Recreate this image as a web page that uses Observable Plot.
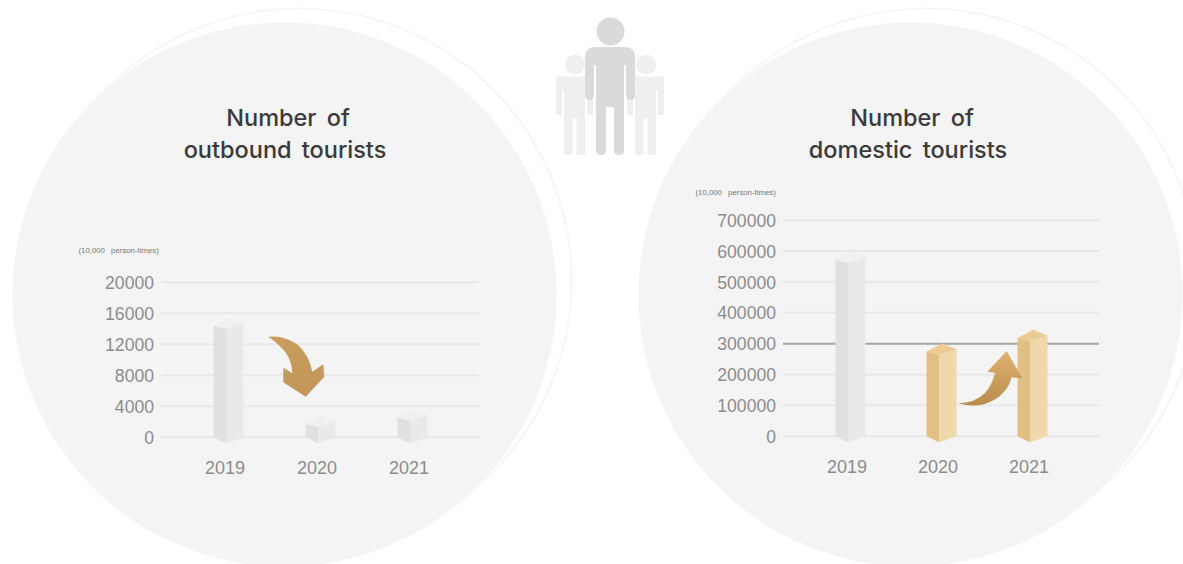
<!DOCTYPE html>
<html>
<head>
<meta charset="utf-8">
<title>Number of outbound and domestic tourists</title>
<script src="https://cdn.jsdelivr.net/npm/d3@7"></script>
<script src="https://cdn.jsdelivr.net/npm/@observablehq/plot@0.6"></script>
<style>
  html, body { margin: 0; background: #fff; overflow: hidden; }
  #stage { position: relative; width: 1183px; height: 564px; }
  #stage svg { position: absolute; left: 0; top: 0; }
</style>
</head>
<body>
<div id="stage"></div>
<script>
// Chart values, in units of 10,000 person-times
const years = ["2019", "2020", "2021"];
const outboundValues = [14660, 2000, 2800];
const domesticValues = [579000, 281000, 325000];
const outboundTicks = [0, 4000, 8000, 12000, 16000, 20000];
const domesticTicks = [0, 100000, 200000, 300000, 400000, 500000, 600000, 700000];
const unitLabel = "(10,000 person-times)";

// Palette for the prism faces: [left, right, top]
const greyFaces = ["#dfe1e0", "#e8e9e9", "#eff0f0"];
const goldFaces = ["#e1bf85", "#efd8ab", "#eccb94"];
const gridColor = "#e8e8e8";
const tickColor = "#8c8c8c";
const fontFamily = "'Liberation Sans', Arial, sans-serif";

const W = 1183, H = 564;
const stage = document.getElementById("stage");

// Hexagonal prism drawn from the scaled x and y of each value
function prisms(facesFor) {
  return (index, scales, channels) => {
    const g = d3.create("svg:g");
    const y0 = scales.y(0);
    for (const i of index) {
      const x = channels.x[i], y = channels.y[i];
      const [left, right, top] = facesFor(i);
      const l = x - 12.5, r = x + 17.5;
      const pts = (p) => p.map((q) => q.join(",")).join(" ");
      g.append("polygon").attr("fill", left)
        .attr("points", pts([[l, y + 2.5], [x, y + 5.7], [x, y0 + 6.6], [l, y0 + 0.6]]));
      g.append("polygon").attr("fill", right)
        .attr("points", pts([[x, y + 5.7], [r, y], [r, y0 + 0.6], [x, y0 + 6.6]]));
      g.append("polygon").attr("fill", top)
        .attr("points", pts([[l, y + 2.5], [x + 3, y - 5.6], [r, y], [x, y + 5.7]]));
    }
    return g.node();
  };
}

// Curved trend arrow with a vertical gold gradient
function trendArrow(id, d, from, to) {
  return () => {
    const g = d3.create("svg:g");
    const grad = g.append("defs").append("linearGradient")
      .attr("id", id).attr("x1", 0).attr("y1", 0).attr("x2", 0).attr("y2", 1);
    grad.append("stop").attr("offset", 0).attr("stop-color", from);
    grad.append("stop").attr("offset", 1).attr("stop-color", to);
    g.append("path").attr("d", d).attr("fill", `url(#${id})`);
    return g.node();
  };
}

function chart({values, ticks, left, right, top, bottom, xRange, facesFor, emphasis, arrow}) {
  const data = years.map((year, i) => ({year, value: values[i]}));
  return Plot.plot({
    width: W, height: H,
    marginLeft: left, marginRight: W - right, marginTop: top, marginBottom: H - bottom,
    style: {background: "transparent", fontFamily},
    x: {type: "point", domain: years, range: xRange, padding: 0, axis: null},
    y: {domain: [0, ticks[ticks.length - 1]], axis: null},
    marks: [
      Plot.ruleY(ticks, {stroke: gridColor, strokeWidth: 2}),
      emphasis != null ? Plot.ruleY([emphasis], {stroke: "#a6a6a6", strokeWidth: 2}) : null,
      Plot.axisY(ticks, {
        anchor: "left", tickSize: 0, tickPadding: 7.5, dy: 1, label: null,
        tickFormat: (d) => String(d), fontSize: 17.6, fill: tickColor, stroke: null
      }),
      Plot.axisX(years, {
        anchor: "bottom", tickSize: 0, tickPadding: 24, dx: -1.5, label: null,
        fontSize: 18, fill: tickColor, stroke: null
      }),
      Plot.dot(data, {x: "year", y: "value", render: prisms(facesFor)}),
      arrow
    ]
  });
}

// Backdrop: discs, thin offset rings, figure group and headings
const pagePoint = {type: "identity"};
const discs = [{x: 284, y: 294}, {x: 910, y: 294}];
const rings = [{x: 299, y: 280}, {x: 925, y: 280}];
const backHeads = [{x: 574.5, y: 64}, {x: 645.5, y: 64}];
const frontHead = [{x: 610, y: 31}];
const headings = [
  {x: 287.5, y: 117.5, text: "Number of"},
  {x: 284.5, y: 149.5, text: "outbound tourists"},
  {x: 911.5, y: 117.5, text: "Number of"},
  {x: 907.5, y: 149.5, text: "domestic tourists"}
];
const unitNotes = [
  {x: 78, y: 250, text: unitLabel},
  {x: 695, y: 192, text: unitLabel}
];

const frontBody = "M595,47H625Q635,47 635,57V95Q635,100 630.5,100Q626,100 626,95V65H624V150Q624,155 619,155Q614,155 614,150V107H606V150Q606,155 601,155Q596,155 596,150V65H594V95Q594,100 589.5,100Q585,100 585,95V57Q585,47 595,47Z";
const backBody = (c) => `M${c - 18.5},78Q${c - 18.5},76.5 ${c - 17},76.5H${c + 17}Q${c + 18.5},76.5 ${c + 18.5},78V115H${c + 12.5}V90H${c + 10.5}V155H${c + 2}V118H${c - 2}V155H${c - 10.5}V90H${c - 12.5}V115H${c - 18.5}Z`;

const figures = () => {
  const g = d3.create("svg:g");
  g.append("path").attr("d", backBody(574.5)).attr("fill", "#eeefef");
  g.append("path").attr("d", backBody(645.5)).attr("fill", "#eeefef");
  return g.node();
};
const frontFigure = () => {
  const g = d3.create("svg:g");
  g.append("path").attr("d", frontBody).attr("fill", "#d9dbda");
  return g.node();
};

stage.append(Plot.plot({
  width: W, height: H, margin: 0,
  style: {background: "transparent", fontFamily: "Inter, 'Noto Sans', sans-serif", wordSpacing: "4px"},
  x: {...pagePoint, axis: null}, y: {...pagePoint, axis: null}, r: {type: "identity"},
  marks: [
    Plot.dot(rings, {x: "x", y: "y", r: 272, stroke: "#f6f6f6", strokeWidth: 2, fill: "none"}),
    Plot.dot(discs, {x: "x", y: "y", r: 272, fill: "#f4f4f4"}),
    figures,
    Plot.dot(backHeads, {x: "x", y: "y", r: 10, fill: "#eeefef"}),
    frontFigure,
    Plot.dot(frontHead, {x: "x", y: "y", r: 14, fill: "#d9dbda"}),
    Plot.text(headings, {x: "x", y: "y", text: "text", fontSize: 23.5, fontWeight: 500, fill: "#3a3a3a"}),
    Plot.text(unitNotes, {x: "x", y: "y", text: "text", textAnchor: "start", fontSize: 7.8, fill: "#777", fontFamily})
  ]
}));

stage.append(chart({
  values: outboundValues, ticks: outboundTicks,
  left: 161, right: 479, top: 281.7, bottom: 436.7,
  xRange: [225, 410.5],
  facesFor: () => greyFaces,
  arrow: trendArrow("fallArrow",
    "M268.3,336.7Q285,335 298,345Q309,355 312.3,371.7L323.3,364.3L324.3,376.7L305.7,396.7L283.3,382.3V367.7L292.3,373.3Q292,362 286,353Q279,344 268.3,336.7Z",
    "#c99d5d", "#c2965a")
}));

stage.append(chart({
  values: domesticValues, ticks: domesticTicks,
  left: 783, right: 1099, top: 219.7, bottom: 435.7,
  xRange: [847.3, 1030.7],
  facesFor: (i) => (i === 0 ? greyFaces : goldFaces),
  emphasis: 300000,
  arrow: trendArrow("riseArrow",
    "M958.3,403.3Q975,403 985,393Q992,385 995,372.7L987.3,371.7L1006.7,351L1022.3,378.3L1011.7,377.3Q1008,392 994,400Q978,409 958.3,403.3Z",
    "#e0b272", "#b98d4c")
}));
</script>
</body>
</html>
